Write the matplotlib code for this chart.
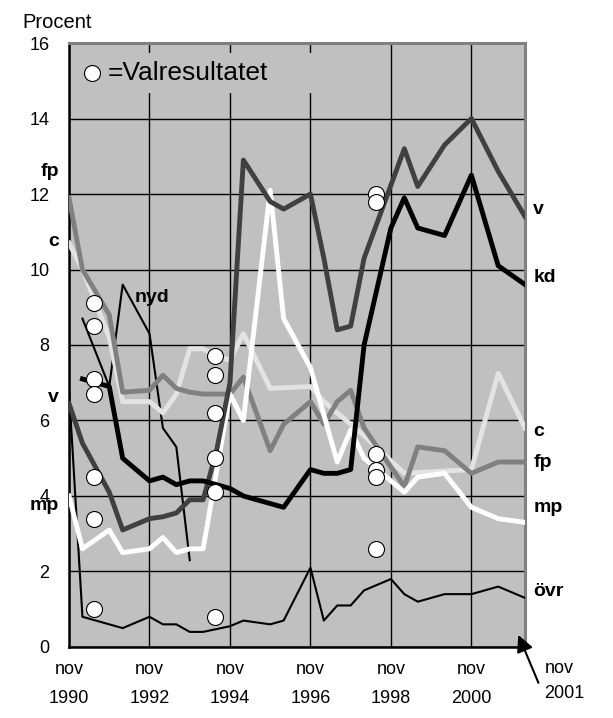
import matplotlib
matplotlib.use('Agg')
import matplotlib.pyplot as plt
from matplotlib.patches import Rectangle

plt.rcParams['font.family'] = ['Liberation Sans', 'DejaVu Sans']

# x positions are months counted from nov 1990
v_x = [0, 4, 12, 16, 24, 28, 32, 36, 40, 44, 48, 52, 60, 64, 72, 76, 80, 84, 88, 100, 104, 112, 120, 128, 136]
v_y = [6.45, 5.4, 4.1, 3.1, 3.4, 3.45, 3.55, 3.9, 3.9, 5.2, 7.0, 12.9, 11.8, 11.6, 12.0, 10.3, 8.4, 8.5, 10.3,
       13.2, 12.2, 13.3, 14.0, 12.6, 11.4]

kd_x = [4, 12, 16, 24, 28, 32, 36, 40, 48, 52, 64, 72, 76, 80, 84, 88, 96, 100, 104, 112, 120, 128, 136]
kd_y = [7.1, 6.9, 5.0, 4.4, 4.5, 4.3, 4.4, 4.4, 4.2, 4.0, 3.7, 4.7, 4.6, 4.6, 4.7, 8.0, 11.1, 11.9, 11.1, 10.9,
        12.5, 10.1, 9.6]

fp_x = [0, 4, 12, 16, 24, 28, 32, 36, 40, 48, 52, 60, 64, 72, 76, 80, 84, 88, 100, 104, 112, 120, 128, 136]
fp_y = [11.9, 10.0, 8.8, 6.75, 6.8, 7.2, 6.85, 6.75, 6.7, 6.7, 7.15, 5.2, 5.9, 6.5, 5.9, 6.5, 6.8, 5.8, 4.25,
        5.3, 5.2, 4.6, 4.9, 4.9]

c_x = [0, 4, 12, 16, 24, 28, 32, 36, 40, 44, 48, 52, 60, 72, 76, 80, 84, 88, 100, 120, 128, 136]
c_y = [10.7, 10.0, 8.2, 6.5, 6.5, 6.2, 6.7, 7.9, 7.9, 7.7, 7.6, 8.3, 6.85, 6.9, 6.5, 6.2, 5.9, 5.6, 4.6, 4.7,
       7.25, 5.8]

mp_x = [0, 4, 12, 16, 24, 28, 32, 36, 40, 48, 52, 60, 64, 72, 80, 84, 88, 100, 104, 112, 120, 128, 136]
mp_y = [4.0, 2.6, 3.1, 2.5, 2.6, 2.9, 2.5, 2.6, 2.6, 6.7, 6.0, 12.1, 8.7, 7.4, 4.9, 5.75, 5.0, 4.1, 4.5, 4.6,
        3.7, 3.4, 3.3]

nyd_x = [4, 12, 16, 24, 28, 32, 36]
nyd_y = [8.7, 6.9, 9.6, 8.3, 5.8, 5.3, 2.3]

ovr_x = [0, 4, 16, 24, 28, 32, 36, 40, 48, 52, 60, 64, 72, 76, 80, 84, 88, 96, 100, 104, 112, 120, 128, 136]
ovr_y = [6.8, 0.8, 0.5, 0.8, 0.6, 0.6, 0.4, 0.4, 0.55, 0.7, 0.6, 0.7, 2.1, 0.7, 1.1, 1.1, 1.5, 1.8, 1.4, 1.2,
         1.4, 1.4, 1.6, 1.3]

# election results (valresultatet)
val_x = [7.3, 43.6, 91.6]
val_1991 = [9.1, 8.5, 7.1, 6.7, 4.5, 3.4, 1.0]
val_1994 = [7.7, 7.2, 6.2, 5.0, 4.1, 0.8]
val_1998 = [12.0, 11.8, 5.1, 4.7, 4.5, 2.6]

tick_x = [0, 24, 48, 72, 96, 120]
tick_lab = ['nov\n1990', 'nov\n1992', 'nov\n1994', 'nov\n1996', 'nov\n1998', 'nov\n2000']

fig = plt.figure(figsize=(6.13, 7.18), dpi=100)
ax = fig.add_axes([0.1126, 0.0989, 0.7439, 0.8412])
ax.set_facecolor('#c0c0c0')

ax.plot(ovr_x, ovr_y, color='black', lw=1.5, zorder=3)
ax.plot(nyd_x, nyd_y, color='black', lw=1.5, zorder=3)
ax.plot(c_x, c_y, color='#e3e3e3', lw=3.5, zorder=3)
ax.plot(fp_x, fp_y, color='#808080', lw=3.5, zorder=3)
ax.plot(mp_x, mp_y, color='white', lw=3.5, zorder=3)
ax.plot(v_x, v_y, color='#404040', lw=3.5, zorder=3)
ax.plot(kd_x, kd_y, color='black', lw=3.5, zorder=3)

for xv, vals in zip(val_x, [val_1991, val_1994, val_1998]):
    ax.plot([xv] * len(vals), vals, 'o', ms=11.5, mfc='white', mec='black', mew=0.8, zorder=5)

ax.set_xlim(0, 136)
ax.set_ylim(0, 16)
ax.set_yticks(range(0, 17, 2))
ax.set_xticks(tick_x)
ax.set_xticklabels(tick_lab, linespacing=1.95)
ax.tick_params(length=0, labelsize=13)
ax.tick_params(axis='y', pad=14)
ax.tick_params(axis='x', pad=10)
ax.grid(True, color='black', lw=1)
ax.set_axisbelow(True)

for s in ['left', 'bottom']:
    ax.spines[s].set_color('black')
    ax.spines[s].set_linewidth(1.8)
for s in ['top', 'right']:
    ax.spines[s].set_color('#808080')
    ax.spines[s].set_linewidth(2.2)

# legend box
ax.add_patch(Rectangle((0.006, 0.917), 0.54, 0.066, transform=ax.transAxes,
                       facecolor='#c0c0c0', edgecolor='none', zorder=2))
ax.plot([0.0498], [0.95], 'o', ms=11.5, mfc='white', mec='black', mew=0.8,
        transform=ax.transAxes, zorder=5)
ax.text(0.0855, 0.95, '=Valresultatet', transform=ax.transAxes, fontsize=19,
        va='center', ha='left', zorder=5)

# series labels
left_labels = [('fp', 12.6), ('c', 10.75), ('v', 6.6), ('mp', 3.75)]
for lab, yv in left_labels:
    ax.text(-3.0, yv, lab, fontsize=14, fontweight='bold', ha='right', va='center', clip_on=False)

right_labels = [('v', 11.6), ('kd', 9.8), ('c', 5.7), ('fp', 4.9), ('mp', 3.7), ('övr', 1.48)]
for lab, yv in right_labels:
    ax.text(138.5, yv, lab, fontsize=14, fontweight='bold', ha='left', va='center', clip_on=False)

ax.text(19.7, 9.27, 'nyd', fontsize=14, fontweight='bold', ha='left', va='center', zorder=4)

fig.text(22 / 613, 1 - 28 / 718, 'Procent', fontsize=14.5, va='baseline', ha='left')

ax.annotate('', xy=(134.0, 0.32), xytext=(140.0, -0.95), annotation_clip=False,
            arrowprops=dict(arrowstyle='-|>', color='black', lw=1.5, mutation_scale=25,
                            shrinkA=0, shrinkB=0))
ax.text(141.8, -0.9, 'nov\n2001', fontsize=13, ha='left', va='center', linespacing=1.6,
        clip_on=False)

fig.savefig('out.png', dpi=100)
